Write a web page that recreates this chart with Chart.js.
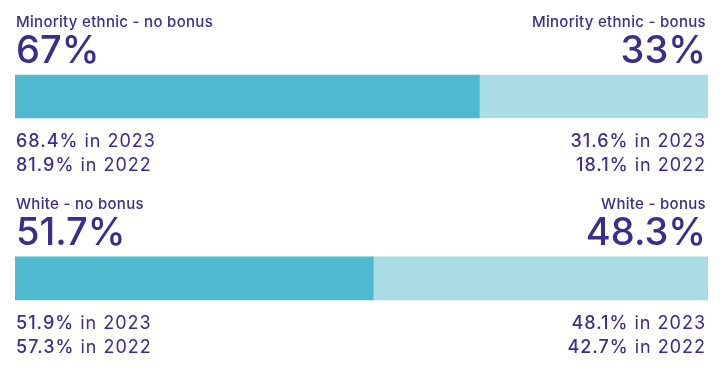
<!DOCTYPE html>
<html><head><meta charset="utf-8">
<script src="https://cdn.jsdelivr.net/npm/chart.js@4/dist/chart.umd.min.js"></script>
<style>html,body{margin:0;padding:0;background:#fff}#wrap{width:720px;height:372px;position:relative}</style>
</head><body><div id="wrap"><canvas id="c" width="720" height="372"></canvas></div>
<script>
const categories = ['Minority ethnic', 'White'];
const noBonus = [67, 51.7];
const bonus = [33, 48.3];
const noBonus2023 = [68.4, 51.9];
const noBonus2022 = [81.9, 57.3];
const bonus2023 = [31.6, 48.1];
const bonus2022 = [18.1, 42.7];
const seriesNames = ['no bonus', 'bonus'];
const years = ['2023', '2022'];

const TXT = '#3a2e8c';
const FONT = 'Inter, "Open Sans", sans-serif';

const labelPlugin = {
  id: 'labels',
  afterDatasetsDraw(chart) {
    const ctx = chart.ctx;
    const m0 = chart.getDatasetMeta(0);
    const left = chart.chartArea.left + 1, right = chart.chartArea.right - 2;
    categories.forEach((cat, i) => {
      const b = m0.data[i];
      const top = b.y - b.height / 2, bot = b.y + b.height / 2;
      ctx.save();
      ctx.fillStyle = TXT;
      ctx.textBaseline = 'alphabetic';
      ctx.font = '500 15px ' + FONT;
      ctx.letterSpacing = '0.3px';
      ctx.textAlign = 'left';
      ctx.fillText(cat + ' - ' + seriesNames[0], left, top - 48);
      ctx.textAlign = 'right';
      ctx.fillText(cat + ' - ' + seriesNames[1], right, top - 48);
      ctx.font = '500 38px ' + FONT;
      ctx.letterSpacing = '0px';
      ctx.textAlign = 'left';
      ctx.fillText(noBonus[i] + '%', left, top - 12);
      ctx.textAlign = 'right';
      ctx.fillText(bonus[i] + '%', right, top - 12);
      const rows = [[noBonus2023[i], bonus2023[i], years[0]], [noBonus2022[i], bonus2022[i], years[1]]];
      ctx.letterSpacing = '1px';
      rows.forEach((r, k) => {
        const y = bot + 29 + k * 24;
        const boldF = '500 18px ' + FONT, regF = '400 18px ' + FONT;
        ctx.textAlign = 'left';
        ctx.font = boldF;
        const p1 = r[0].toFixed(1) + '%';
        ctx.fillText(p1, left, y);
        const w1 = ctx.measureText(p1).width;
        ctx.font = regF;
        ctx.fillText(' in ' + r[2], left + w1, y);
        ctx.textAlign = 'right';
        ctx.font = regF;
        const s2 = ' in ' + r[2];
        ctx.fillText(s2, right, y);
        const w2 = ctx.measureText(s2).width;
        ctx.font = boldF;
        ctx.fillText(r[1].toFixed(1) + '%', right - w2, y);
      });
      ctx.restore();
    });
  }
};

new Chart(document.getElementById('c'), {
  type: 'bar',
  data: {
    labels: categories,
    datasets: [
      { label: seriesNames[0], data: noBonus, backgroundColor: '#4fb9cf', borderWidth: 0, barThickness: 43 },
      { label: seriesNames[1], data: bonus, backgroundColor: '#abdde4', borderWidth: 0, barThickness: 43 }
    ]
  },
  options: {
    indexAxis: 'y',
    responsive: false,
    animation: false,
    layout: { padding: { left: 15, right: 12, top: 5.6, bottom: 2.8 } },
    plugins: { legend: { display: false }, tooltip: { enabled: false } },
    scales: {
      x: { stacked: true, min: 0, max: 100, display: false },
      y: { stacked: true, display: false, offset: true }
    }
  },
  plugins: [labelPlugin]
});
</script></body></html>
